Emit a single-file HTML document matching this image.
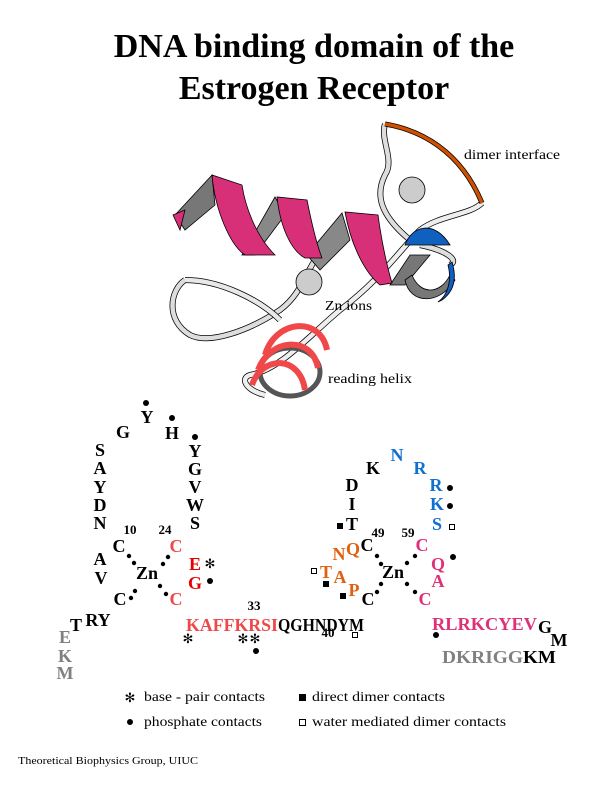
<!DOCTYPE html>
<html><head><meta charset="utf-8"><style>
html,body{margin:0;padding:0;background:#fff}
svg{display:block}
.b{font-family:"Liberation Serif",serif;font-weight:bold;font-size:18px;text-anchor:middle}
.n{font-family:"Liberation Serif",serif;font-weight:bold;font-size:13px;text-anchor:middle}
.l{font-family:"Liberation Serif",serif;font-size:14px}
.k{fill:#000}.r{fill:#f04848}.rr{fill:#e80000}.o{fill:#e06010}.p{fill:#e03078}.bl{fill:#1070d0}.g{fill:#808080}
.ast{font-family:"DejaVu Sans",sans-serif;font-weight:bold;font-size:13px;text-anchor:middle}
</style></head><body>
<svg width="612" height="792" viewBox="0 0 612 792" xmlns="http://www.w3.org/2000/svg">
<text x="314" y="57" font-family="Liberation Serif" font-weight="bold" font-size="34" text-anchor="middle">DNA binding domain of the</text>
<text x="314" y="99" font-family="Liberation Serif" font-weight="bold" font-size="34" text-anchor="middle">Estrogen Receptor</text>

<g stroke="#000" stroke-width="0.8">
<path d="M385,124 C380,140 395,160 385,175 C375,195 380,215 410,240" fill="none" stroke="#000" stroke-width="6"/>
<path d="M385,124 C380,140 395,160 385,175 C375,195 380,215 410,240" fill="none" stroke="#ddd" stroke-width="4.5"/>
<path d="M482,203 C470,215 440,215 420,230 C400,250 380,280 340,310 C310,335 280,370 250,375 C240,378 245,390 265,395" fill="none" stroke="#000" stroke-width="6"/>
<path d="M482,203 C470,215 440,215 420,230 C400,250 380,280 340,310 C310,335 280,370 250,375 C240,378 245,390 265,395" fill="none" stroke="#eee" stroke-width="4.5"/>
<path d="M185,280 C170,290 165,320 190,335 C210,345 250,330 280,310 C300,295 305,275 315,260" fill="none" stroke="#000" stroke-width="6"/>
<path d="M185,280 C170,290 165,320 190,335 C210,345 250,330 280,310 C300,295 305,275 315,260" fill="none" stroke="#ddd" stroke-width="4.5"/>
<path d="M185,280 C220,280 260,300 280,320" fill="none" stroke="#000" stroke-width="6"/>
<path d="M185,280 C220,280 260,300 280,320" fill="none" stroke="#e8e8e8" stroke-width="4.5"/>
<path d="M420,245 C445,250 460,260 450,265" fill="none" stroke="#000" stroke-width="6"/>
<path d="M420,245 C445,250 460,260 450,265" fill="none" stroke="#ddd" stroke-width="4.5"/>
<path d="M175,215 L212,175 L215,205 L185,230 Z" fill="#777"/>
<path d="M242,255 L275,197 L285,215 L255,255 Z" fill="#888"/>
<path d="M307,255 L342,213 L350,240 L320,270 Z" fill="#888"/>
<path d="M390,285 L410,255 L430,255 L405,285 Z" fill="#777"/>
<path d="M405,280 C410,305 440,305 455,280 L450,275 C440,295 420,295 412,275 Z" fill="#777"/>
<path d="M212,175 C215,210 230,245 245,255 L275,255 C255,235 245,205 242,185 Z" fill="#d83078"/>
<path d="M277,197 C280,225 290,250 305,258 L322,258 C315,240 310,215 307,200 Z" fill="#d83078"/>
<path d="M345,212 C350,240 362,270 380,285 L392,283 C385,260 380,230 378,215 Z" fill="#d83078"/>
<path d="M173,215 L185,210 L180,230 Z" fill="#d83078"/>
<path d="M405,245 C412,225 435,220 450,245 Z" fill="#1060c0"/>
<path d="M448,265 C452,280 448,295 438,302 L442,300 C456,290 456,275 452,262 Z" fill="#1060c0"/>
<circle cx="412" cy="190" r="13" fill="#ccc"/>
<circle cx="309" cy="282" r="13" fill="#ccc"/>
<ellipse cx="290" cy="372" rx="30" ry="24" fill="none" stroke="#555" stroke-width="5"/>
<path d="M265,355 C275,320 320,315 327,350" fill="none" stroke="#f04848" stroke-width="6"/>
<path d="M258,370 C270,338 312,335 318,368" fill="none" stroke="#f04848" stroke-width="6"/>
<path d="M252,385 C262,355 300,355 305,390" fill="none" stroke="#f04848" stroke-width="6"/>
</g>
<path d="M385,124 C420,130 460,150 482,203" fill="none" stroke="#000" stroke-width="5"/>
<path d="M385,124 C420,130 460,150 482,203" fill="none" stroke="#d05000" stroke-width="3.5"/>
<text x="464" y="159" class="l" textLength="96" lengthAdjust="spacingAndGlyphs">dimer interface</text>
<text x="325" y="310" class="l" textLength="47" lengthAdjust="spacingAndGlyphs">Zn ions</text>
<text x="328" y="383" class="l" textLength="84" lengthAdjust="spacingAndGlyphs">reading helix</text>

<g class="b k">
<text x="147" y="423">Y</text><text x="172" y="439">H</text><text x="123" y="438">G</text>
<text x="100" y="456">S</text><text x="100" y="474">A</text><text x="100" y="493">Y</text><text x="100" y="511">D</text><text x="100" y="529">N</text>
<text x="195" y="457">Y</text><text x="195" y="475">G</text><text x="195" y="493">V</text><text x="195" y="511">W</text><text x="195" y="529">S</text>
<text x="119" y="552">C</text><text x="100" y="565">A</text><text x="101" y="584">V</text>
<text x="147" y="579">Zn</text><text x="120" y="605">C</text>
<text x="76" y="631">T</text><text x="98" y="626">RY</text>
</g>
<g class="b r"><text x="176" y="552">C</text><text x="176" y="605">C</text></g>
<g class="b rr"><text x="195" y="570">E</text><text x="195" y="589">G</text></g>
<g class="b g"><text x="65" y="643">E</text><text x="65" y="662">K</text><text x="65" y="679">M</text></g>
<g class="n"><text x="130" y="534">10</text><text x="165" y="534">24</text><text x="254" y="610">33</text><text x="328" y="637">40</text><text x="378" y="537">49</text><text x="408" y="537">59</text></g>
<text x="186" y="631" class="b r" style="text-anchor:start" textLength="92" lengthAdjust="spacingAndGlyphs">KAFFKRSI</text>
<text x="278" y="631" class="b k" style="text-anchor:start" textLength="86" lengthAdjust="spacingAndGlyphs">QGHNDYM</text>

<g class="b bl"><text x="397" y="461">N</text><text x="420" y="474">R</text><text x="436" y="491">R</text><text x="437" y="510">K</text><text x="437" y="530">S</text></g>
<g class="b k"><text x="373" y="474">K</text><text x="352" y="491">D</text><text x="352" y="510">I</text><text x="352" y="530">T</text>
<text x="367" y="551">C</text><text x="393" y="578">Zn</text><text x="368" y="605">C</text>
<text x="545" y="633">G</text><text x="559" y="646">M</text></g>
<g class="b o"><text x="353" y="555">Q</text><text x="339" y="560">N</text><text x="326" y="578">T</text><text x="340" y="583">A</text><text x="354" y="596">P</text></g>
<g class="b p"><text x="422" y="551">C</text><text x="438" y="570">Q</text><text x="438" y="587">A</text><text x="425" y="605">C</text></g>
<text x="432" y="630" class="b p" style="text-anchor:start" textLength="105" lengthAdjust="spacingAndGlyphs">RLRKCYEV</text>
<text x="442" y="663" class="b g" style="text-anchor:start" textLength="81" lengthAdjust="spacingAndGlyphs">DKRIGG</text>
<text x="523" y="663" class="b k" style="text-anchor:start" textLength="33" lengthAdjust="spacingAndGlyphs">KM</text>

<g fill="#000">
<circle cx="146" cy="403" r="3"/><circle cx="172" cy="418" r="3"/><circle cx="195" cy="437" r="3"/>
<circle cx="210" cy="581" r="3"/><circle cx="256" cy="651" r="3"/>
<circle cx="129" cy="556" r="2.2"/><circle cx="134" cy="563" r="2.2"/><circle cx="168" cy="557" r="2.2"/><circle cx="163" cy="564" r="2.2"/>
<circle cx="135" cy="591" r="2.2"/><circle cx="131" cy="598" r="2.2"/><circle cx="160" cy="586" r="2.2"/><circle cx="166" cy="594" r="2.2"/>
<circle cx="450" cy="488" r="3"/><circle cx="450" cy="506" r="3"/><circle cx="453" cy="557" r="3"/><circle cx="436" cy="635" r="3"/>
<circle cx="377" cy="556" r="2.2"/><circle cx="381" cy="564" r="2.2"/><circle cx="415" cy="556" r="2.2"/><circle cx="407" cy="563" r="2.2"/>
<circle cx="381" cy="584" r="2.2"/><circle cx="377" cy="592" r="2.2"/><circle cx="407" cy="584" r="2.2"/><circle cx="415" cy="592" r="2.2"/>
<rect x="337" y="523" width="6" height="6"/><rect x="323" y="581" width="6" height="6"/><rect x="340" y="593" width="6" height="6"/>
</g>
<g fill="none" stroke="#000" stroke-width="1">
<rect x="449.5" y="524.5" width="5" height="5"/><rect x="311.5" y="568.5" width="5" height="5"/><rect x="352.5" y="632.5" width="5" height="5"/>
</g>
<g class="ast">
<text x="210" y="568">✻</text><text x="188" y="643">✻</text><text x="243" y="643">✻</text><text x="255" y="643">✻</text>
<text x="130" y="702">✻</text>
</g>

<text x="144" y="701" class="l" textLength="121" lengthAdjust="spacingAndGlyphs">base - pair contacts</text>
<rect x="299" y="694" width="7" height="7"/>
<text x="312" y="701" class="l" textLength="133" lengthAdjust="spacingAndGlyphs">direct dimer contacts</text>
<circle cx="130" cy="722" r="3"/>
<text x="144" y="726" class="l" textLength="118" lengthAdjust="spacingAndGlyphs">phosphate contacts</text>
<rect x="299.5" y="719.5" width="6" height="6" fill="none" stroke="#000"/>
<text x="312" y="726" class="l" textLength="194" lengthAdjust="spacingAndGlyphs">water mediated dimer contacts</text>
<text x="18" y="764" font-family="Liberation Serif" font-size="11" textLength="180" lengthAdjust="spacingAndGlyphs">Theoretical Biophysics Group, UIUC</text>
</svg>
</body></html>
